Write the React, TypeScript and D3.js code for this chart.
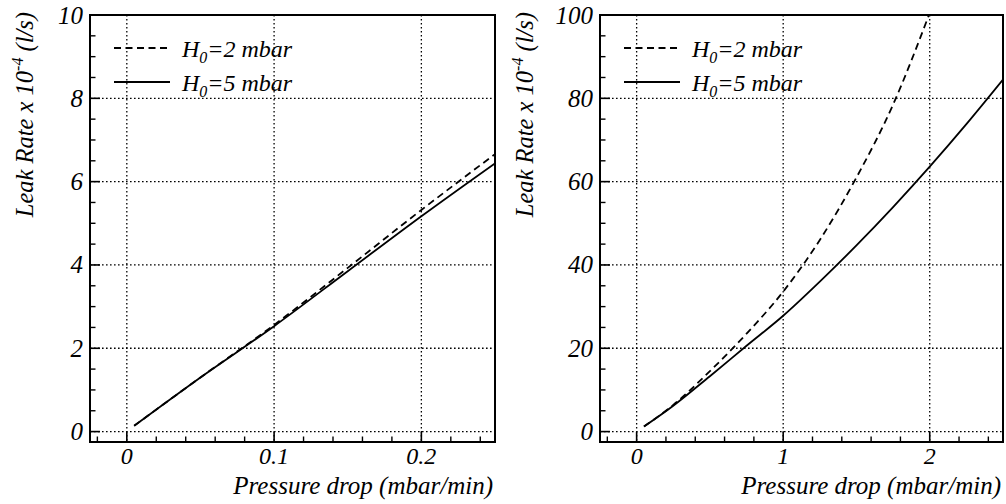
import React from "react";
import * as d3 from "d3";

// ---------- data ----------
const leftX = [0.005, 0.05, 0.1, 0.15, 0.2, 0.25];
const leftH2 = [0.14, 1.3, 2.56, 3.93, 5.32, 6.66];
const leftH5 = [0.14, 1.3, 2.53, 3.85, 5.17, 6.44];

const rightX = [0.05, 0.25, 0.5, 0.75, 1.0, 1.25, 1.5, 1.75, 2.0, 2.25, 2.5];
const rightH2 = [1.2, 6.4, 14.5, 23.5, 33.6, 46, 61, 78.5, 100.5];
const rightH5 = [1.2, 6.2, 13.3, 20.6, 27.8, 36.0, 44.7, 53.9, 63.6, 73.8, 84.5];

const leftXTicks = [0, 0.1, 0.2];
const leftXTickLabels = ["0", "0.1", "0.2"];
const leftYTicks = [0, 2, 4, 6, 8, 10];
const rightXTicks = [0, 1, 2];
const rightXTickLabels = ["0", "1", "2"];
const rightYTicks = [0, 20, 40, 60, 80, 100];

const legendLabels = ["=2 mbar", "=5 mbar"];
const xTitle = "Pressure drop (mbar/min)";

const FONT =
  '"Liberation Serif", "Times New Roman", Times, Tinos, "DejaVu Serif", serif';

type PanelProps = {
  id: string;
  left: number;
  right: number;
  top: number;
  bottom: number;
  xDomain: [number, number];
  yDomain: [number, number];
  xTicks: number[];
  xTickLabels: string[];
  xMinorStep: number;
  yTicks: number[];
  yMinorStep: number;
  xs: number[];
  h2: number[];
  h5: number[];
  yTitleX: number;
};

function Panel(p: PanelProps) {
  const x = d3.scaleLinear().domain(p.xDomain).range([p.left, p.right]);
  const y = d3.scaleLinear().domain(p.yDomain).range([p.bottom, p.top]);
  const line = d3
    .line<[number, number]>()
    .x((d) => x(d[0]))
    .y((d) => y(d[1]))
    .curve(d3.curveMonotoneX);
  const d2 = line(p.h2.map((v, i) => [p.xs[i], v] as [number, number])) || "";
  const d5 = line(p.h5.map((v, i) => [p.xs[i], v] as [number, number])) || "";

  const eps = 1e-9;
  const xMinor: number[] = [];
  const xStart = Math.ceil((p.xDomain[0] - eps) / p.xMinorStep);
  for (let k = xStart; k * p.xMinorStep <= p.xDomain[1] + eps; k++) {
    const v = +(k * p.xMinorStep).toFixed(6);
    if (!p.xTicks.some((t) => Math.abs(t - v) < eps)) xMinor.push(v);
  }
  const yMinor: number[] = [];
  const yStart = Math.ceil((p.yDomain[0] - eps) / p.yMinorStep);
  for (let k = yStart; k * p.yMinorStep <= p.yDomain[1] + eps; k++) {
    const v = +(k * p.yMinorStep).toFixed(6);
    if (!p.yTicks.some((t) => Math.abs(t - v) < eps)) yMinor.push(v);
  }

  const gridDash = "1.6,2.4";
  const legX0 = p.left + 24;
  const legX1 = p.left + 80;
  const legTextX = p.left + 92;

  const ts = (size: number): React.CSSProperties => ({
    fontFamily: FONT,
    fontStyle: "italic",
    fontSize: size,
  });

  return (
    <g>
      <defs>
        <clipPath id={p.id}>
          <rect x={p.left} y={p.top} width={p.right - p.left} height={p.bottom - p.top} />
        </clipPath>
      </defs>
      {/* grid */}
      {p.xTicks.map((t) => (
        <line
          key={"gx" + t}
          x1={x(t)}
          x2={x(t)}
          y1={p.top}
          y2={p.bottom}
          stroke="#000"
          strokeWidth={1.3}
          strokeDasharray={gridDash}
        />
      ))}
      {p.yTicks
        .filter((t) => y(t) > p.top + 1)
        .map((t) => (
          <line
            key={"gy" + t}
            x1={p.left}
            x2={p.right}
            y1={y(t)}
            y2={y(t)}
            stroke="#000"
            strokeWidth={1.3}
            strokeDasharray={gridDash}
          />
        ))}
      {/* curves */}
      <g clipPath={`url(#${p.id})`}>
        <path d={d2} fill="none" stroke="#000" strokeWidth={1.8} strokeDasharray="7,4.5" />
        <path d={d5} fill="none" stroke="#000" strokeWidth={1.8} />
      </g>
      {/* ticks */}
      {p.xTicks.map((t) => (
        <line key={"tx" + t} x1={x(t)} x2={x(t)} y1={p.bottom} y2={p.bottom - 10} stroke="#000" strokeWidth={1.6} />
      ))}
      {xMinor.map((t) => (
        <line key={"mx" + t} x1={x(t)} x2={x(t)} y1={p.bottom} y2={p.bottom - 5.5} stroke="#000" strokeWidth={1.4} />
      ))}
      {p.yTicks.map((t) => (
        <line key={"ty" + t} x1={p.left} x2={p.left + 10} y1={y(t)} y2={y(t)} stroke="#000" strokeWidth={1.6} />
      ))}
      {yMinor.map((t) => (
        <line key={"my" + t} x1={p.left} x2={p.left + 5.5} y1={y(t)} y2={y(t)} stroke="#000" strokeWidth={1.4} />
      ))}
      {/* frame */}
      <rect
        x={p.left}
        y={p.top}
        width={p.right - p.left}
        height={p.bottom - p.top}
        fill="none"
        stroke="#000"
        strokeWidth={2}
      />
      {/* tick labels */}
      {p.xTicks.map((t, i) => (
        <text key={"lx" + t} x={x(t)} y={464} textAnchor="middle" style={ts(24)}>
          {p.xTickLabels[i]}
        </text>
      ))}
      {p.yTicks.map((t) => (
        <text key={"ly" + t} x={p.left - 7} y={y(t) + 8.5} textAnchor="end" style={ts(25)}>
          {String(t)}
        </text>
      ))}
      {/* axis titles */}
      <text x={p.right - 2} y={494} textAnchor="end" style={ts(25)}>
        {xTitle}
      </text>
      <text
        transform={`translate(${p.yTitleX},${p.top - 3}) rotate(-90)`}
        textAnchor="end"
        style={ts(24.5)}
      >
        Leak Rate x 10
        <tspan style={{ fontSize: 16 }} dy={-10}>-4</tspan>
        <tspan dy={10}> (l/s)</tspan>
      </text>
      {/* legend */}
      {legendLabels.map((lab, i) => {
        const ly = p.top + 33 + i * 34;
        return (
          <g key={"leg" + i}>
            <line
              x1={legX0}
              x2={legX1}
              y1={ly}
              y2={ly}
              stroke="#000"
              strokeWidth={1.8}
              strokeDasharray={i === 0 ? "7,4.5" : undefined}
            />
            <text x={legTextX} y={ly + 9} style={ts(24)}>
              H
              <tspan style={{ fontSize: 16 }} dy={6}>0</tspan>
              <tspan dy={-6}>{lab}</tspan>
            </text>
          </g>
        );
      })}
    </g>
  );
}

export default function App() {
  return (
    <svg
      width={1006}
      height={504}
      style={{ position: "absolute", left: 0, top: 0, background: "#fff" }}
    >
      <rect x={0} y={0} width={1006} height={504} fill="#fff" />
      <Panel
        id="clipL"
        left={90}
        right={495}
        top={15}
        bottom={442}
        xDomain={[-0.025, 0.25]}
        yDomain={[-0.25, 10]}
        xTicks={leftXTicks}
        xTickLabels={leftXTickLabels}
        xMinorStep={0.02}
        yTicks={leftYTicks}
        yMinorStep={0.5}
        xs={leftX}
        h2={leftH2}
        h5={leftH5}
        yTitleX={33}
      />
      <Panel
        id="clipR"
        left={600}
        right={1003}
        top={15}
        bottom={442}
        xDomain={[-0.25, 2.5]}
        yDomain={[-2.5, 100]}
        xTicks={rightXTicks}
        xTickLabels={rightXTickLabels}
        xMinorStep={0.2}
        yTicks={rightYTicks}
        yMinorStep={5}
        xs={rightX}
        h2={rightH2}
        h5={rightH5}
        yTitleX={533}
      />
    </svg>
  );
}
